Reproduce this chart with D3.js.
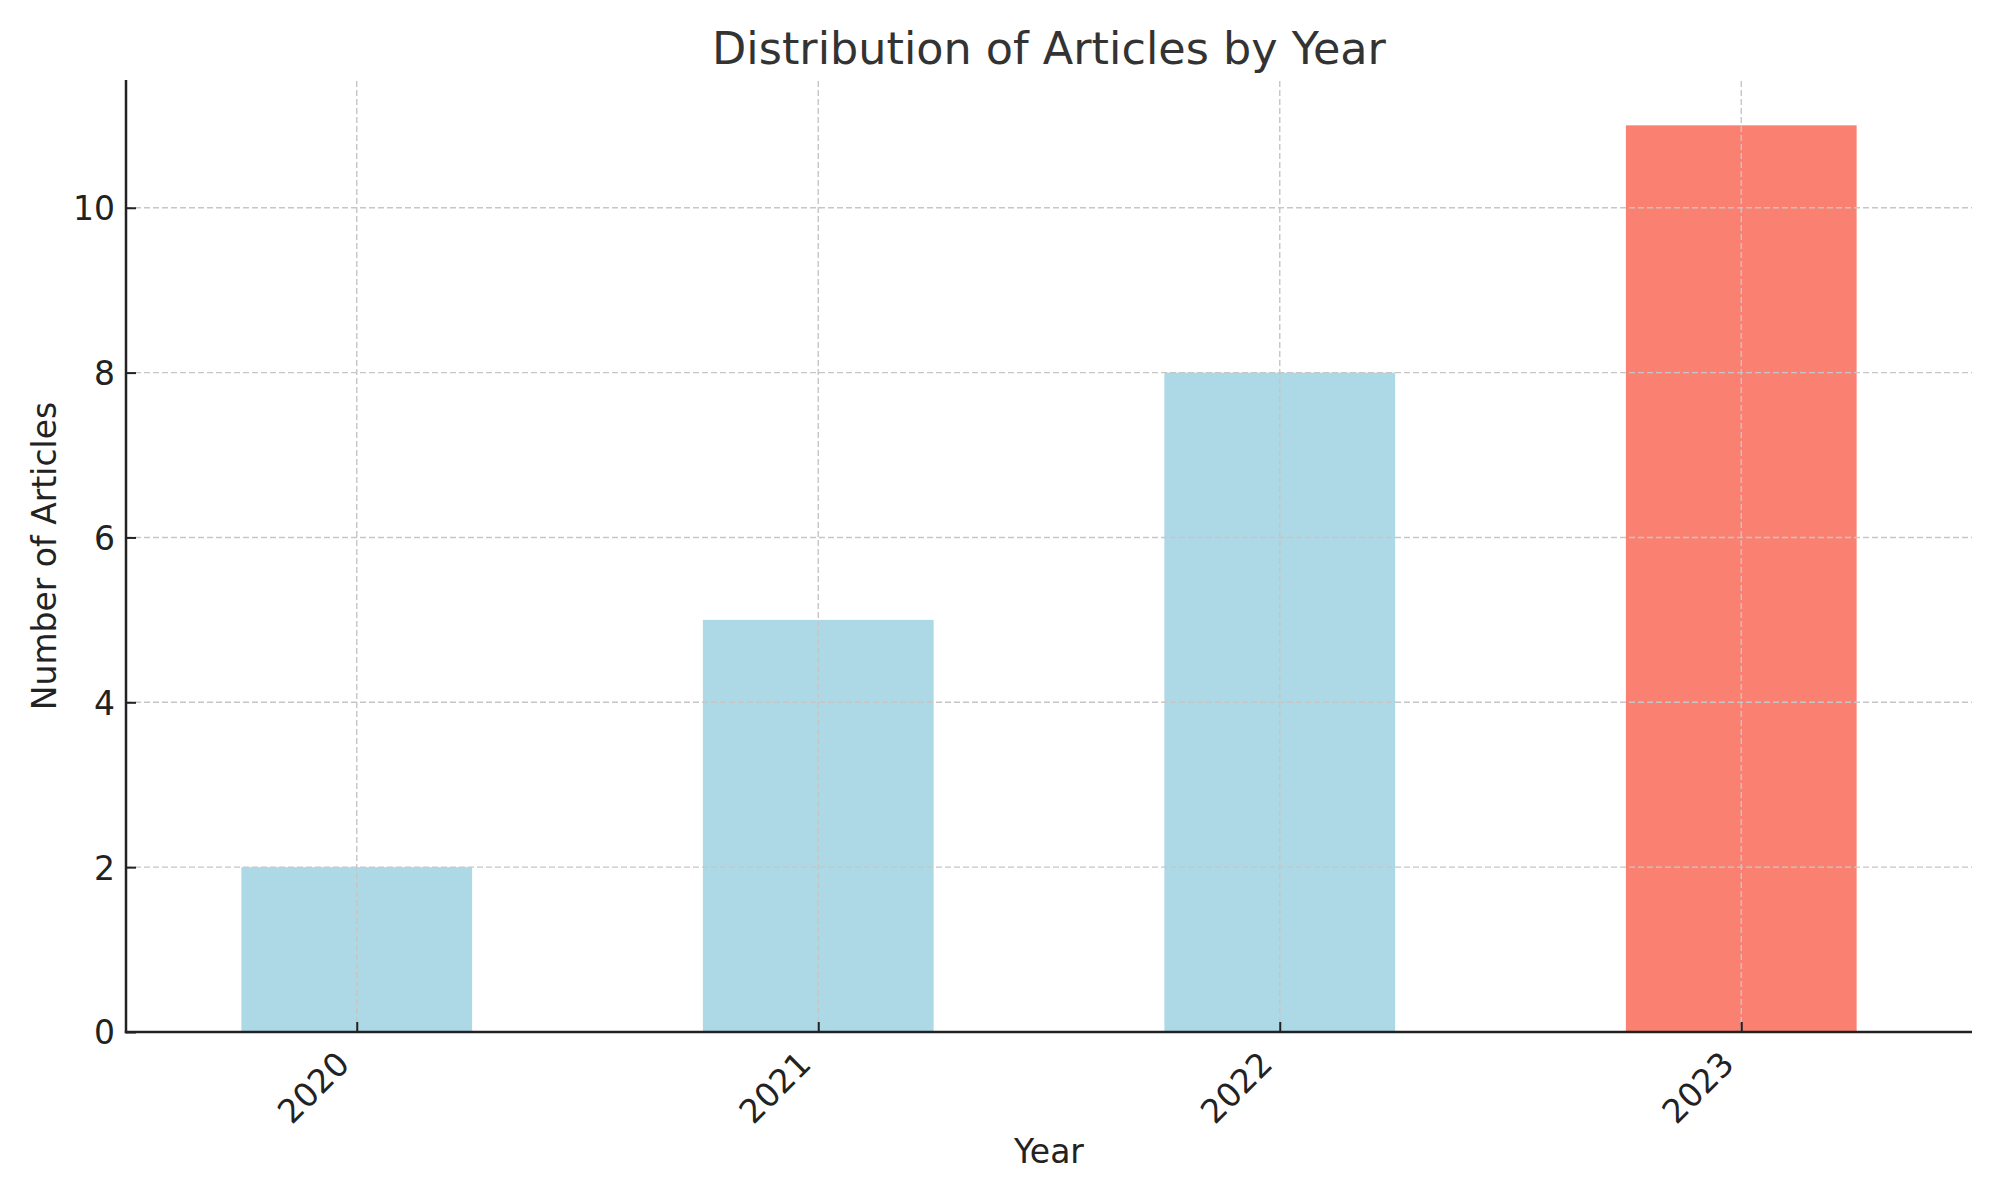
<!DOCTYPE html>
<html>
<head>
<meta charset="utf-8">
<script src="https://cdn.jsdelivr.net/npm/d3@7"></script>
<style>
  html, body { margin: 0; padding: 0; background: #fff; }
  svg { display: block; font-family: "DejaVu Sans", sans-serif; }
</style>
</head>
<body>
<svg id="chart" width="2000" height="1200"></svg>
<script>
const years = ["2020", "2021", "2022", "2023"];
const articleCounts = [2, 5, 8, 11];
const barColors = ["#add8e6", "#add8e6", "#add8e6", "#fa8072"];
const yTickValues = [0, 2, 4, 6, 8, 10];
const titleText = "Distribution of Articles by Year";
const xLabelText = "Year";
const yLabelText = "Number of Articles";

const svg = d3.select("#chart");
const margin = { left: 126, right: 28, top: 80, bottom: 168 };
const W = 2000, H = 1200;
const x0 = margin.left, x1 = W - margin.right;
const y0 = H - margin.bottom, y1 = margin.top;

// linear x scale over category indices (pandas-style xlim -0.5..n-0.5)
const x = d3.scaleLinear().domain([-0.5, years.length - 0.5]).range([x0, x1]);
const y = d3.scaleLinear().domain([0, d3.max(articleCounts) * 1.05]).range([y0, y1]);
const barW = 0.5;

// bars
svg.append("g").selectAll("rect").data(articleCounts).join("rect")
  .attr("x", (d, i) => x(i - barW / 2))
  .attr("width", (d, i) => x(i + barW / 2) - x(i - barW / 2))
  .attr("y", d => y(d))
  .attr("height", d => y0 - y(d))
  .attr("fill", (d, i) => barColors[i]);

// grid drawn above bars (as in reference)
const grid = svg.append("g");
grid.selectAll("line.vg").data(years).join("line")
  .attr("x1", (d, i) => x(i)).attr("x2", (d, i) => x(i))
  .attr("y1", y0).attr("y2", y1)
  .attr("stroke", "#c6c6c6").attr("stroke-width", 1.4).attr("stroke-dasharray", "6,3");
grid.selectAll("line.hg").data(yTickValues).join("line")
  .attr("x1", x0).attr("x2", x1)
  .attr("y1", d => y(d)).attr("y2", d => y(d))
  .attr("stroke", "#c6c6c6").attr("stroke-width", 1.4).attr("stroke-dasharray", "6,3");

// Y axis
const yAxis = d3.axisLeft(y).tickValues(yTickValues).tickFormat(d3.format("d"))
  .tickSizeInner(-10).tickSizeOuter(0).tickPadding(11);
const gy = svg.append("g").attr("transform", `translate(${x0},0)`).call(yAxis);
gy.select(".domain").remove();
gy.selectAll(".tick line").attr("stroke", "#222").attr("stroke-width", 2);
gy.selectAll(".tick text").attr("font-size", 33).attr("fill", "#222")
  .attr("font-family", "DejaVu Sans").attr("dy", "0.36em");

// X axis
const xAxis = d3.axisBottom(x).tickValues(d3.range(years.length))
  .tickFormat(i => years[i]).tickSizeInner(-10).tickSizeOuter(0);
const gx = svg.append("g").attr("transform", `translate(0,${y0})`).call(xAxis);
gx.select(".domain").remove();
gx.selectAll(".tick line").attr("stroke", "#222").attr("stroke-width", 2);
gx.selectAll(".tick text")
  .attr("font-size", 33).attr("fill", "#222").attr("font-family", "DejaVu Sans")
  .attr("text-anchor", "end").attr("y", 0).attr("dy", 0)
  .attr("transform", "translate(-6,34) rotate(-45)");

// spines
svg.append("line").attr("x1", x0).attr("x2", x0).attr("y1", y1).attr("y2", y0 + 1.2)
  .attr("stroke", "#222").attr("stroke-width", 2.5);
svg.append("line").attr("x1", x0 - 1.2).attr("x2", x1).attr("y1", y0).attr("y2", y0)
  .attr("stroke", "#222").attr("stroke-width", 2.5);

// title
svg.append("text").attr("x", (x0 + x1) / 2).attr("y", 64)
  .attr("text-anchor", "middle").attr("font-size", 44.5).attr("fill", "#333")
  .text(titleText);

// axis labels
svg.append("text").attr("x", (x0 + x1) / 2).attr("y", 1163)
  .attr("text-anchor", "middle").attr("font-size", 33).attr("fill", "#222")
  .text(xLabelText);
svg.append("text")
  .attr("transform", `translate(56,${(y0 + y1) / 2}) rotate(-90)`)
  .attr("text-anchor", "middle").attr("font-size", 33).attr("fill", "#222")
  .text(yLabelText);
</script>
</body>
</html>
